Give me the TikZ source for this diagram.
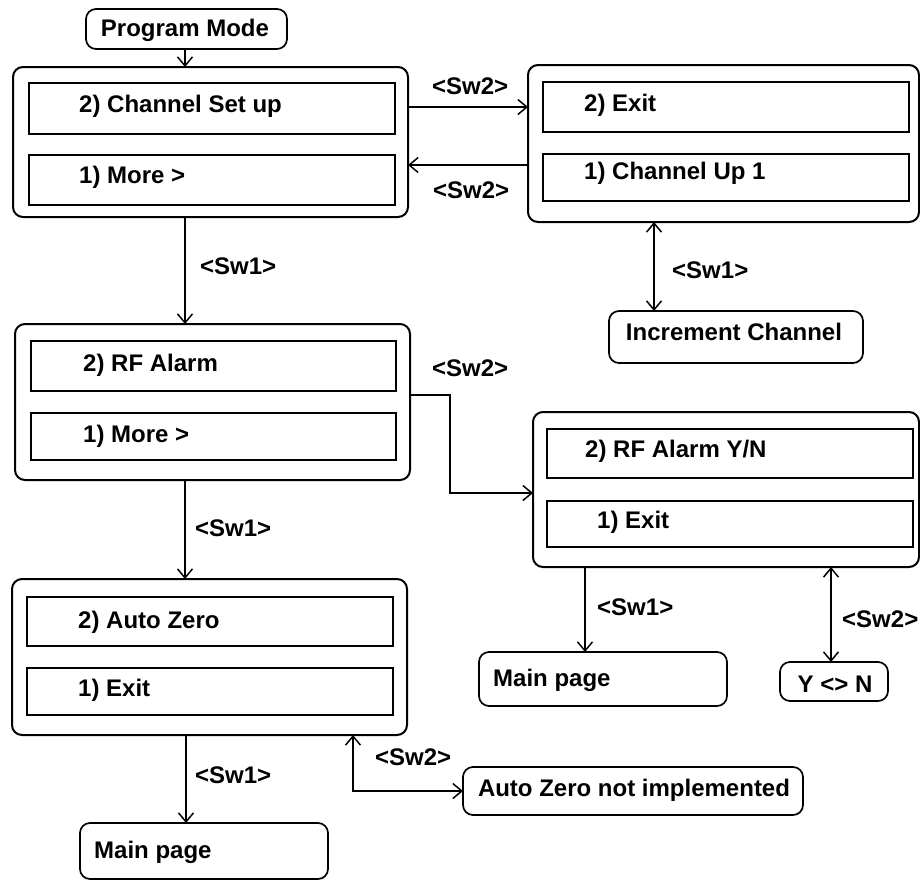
\documentclass[tikz,border=0pt]{standalone}
\usepackage{fontspec}
\setmainfont{Liberation Sans}
\usetikzlibrary{arrows.meta}
% box from its top-left to its bottom-right corner
\newcommand\mkbox[6]{\node[#2, anchor=north west, minimum width={(#5-#3)*1pt}, minimum height={(#6-#4)*1pt}] (#1) at (#3,#4) {};}
\begin{document}
\begin{tikzpicture}[x=1pt,y=-1pt,
  font=\bfseries\fontsize{24}{28}\selectfont,
  panel/.style={draw, line width=2pt, rounded corners=10pt, inner sep=0pt, outer sep=0pt},
  entry/.style={draw, line width=2pt, inner sep=0pt, outer sep=0pt},
  pill/.style={draw, line width=1.7pt, rounded corners=10pt, inner sep=0pt, outer sep=0pt},
  txt/.style={inner sep=0pt, anchor=base west},
  ctxt/.style={inner sep=0pt, anchor=base},
  link/.style={line width=1.5pt, -{Straight Barb[length=9pt,width=15pt]}},
  both/.style={line width=1.5pt, {Straight Barb[length=9pt,width=15pt]}-{Straight Barb[length=9pt,width=15pt]}},
]
\useasboundingbox (0,0) rectangle (920,883);

% entry point
\mkbox{pm}{pill}{86}{9}{287}{49}
\node[ctxt] (pmt) at (185,37) {Program Mode};

% Channel set-up menu
\mkbox{b1}{panel}{13}{67}{408}{217}
\mkbox{b1a}{entry}{29}{83}{395}{134}
\mkbox{b1b}{entry}{29}{155}{395}{205}
\node[txt] (b1at) at (79,112) {2) Channel Set up};
\node[txt] (b1bt) at (79,183) {1) More >};

% channel sub-menu
\mkbox{b2}{panel}{528}{65}{919}{222}
\mkbox{b2a}{entry}{543}{82}{909}{132}
\mkbox{b2b}{entry}{543}{154}{909}{201}
\node[txt] (b2at) at (584,111) {2) Exit};
\node[txt] (b2bt) at (584,179) {1) Channel Up 1};

\mkbox{inc}{pill}{609}{311}{863}{363}
\node[ctxt] (inct) at (734,340) {Increment Channel};

% RF alarm menu
\mkbox{b3}{panel}{15}{324}{410}{480}
\mkbox{b3a}{entry}{31}{341}{396}{391}
\mkbox{b3b}{entry}{31}{413}{396}{460}
\node[txt] (b3at) at (83,371) {2) RF Alarm};
\node[txt] (b3bt) at (83,442) {1) More >};

% RF alarm sub-menu
\mkbox{b5}{panel}{533}{412}{919}{567}
\mkbox{b5a}{entry}{547}{429}{913}{478}
\mkbox{b5b}{entry}{547}{501}{913}{547}
\node[txt] (b5at) at (585,457) {2) RF Alarm Y/N};
\node[txt] (b5bt) at (597,528) {1) Exit};

\mkbox{mp2}{pill}{479}{652}{727}{706}
\node[txt] (mp2t) at (493,686) {Main page};
\mkbox{yn}{pill}{780}{662}{888}{701}
\node[ctxt] (ynt) at (835,692) {Y <> N};

% Auto zero menu
\mkbox{b4}{panel}{12}{579}{407}{735}
\mkbox{b4a}{entry}{27}{597}{393}{646}
\mkbox{b4b}{entry}{27}{668}{393}{715}
\node[txt] (b4at) at (78,628) {2) Auto Zero};
\node[txt] (b4bt) at (78,696) {1) Exit};

\mkbox{mp1}{pill}{80}{823}{328}{879}
\node[txt] (mp1t) at (94,858) {Main page};
\mkbox{az}{pill}{463}{767}{803}{815}
\node[ctxt] (azt) at (634,796) {Auto Zero not implemented};

% connectors
\draw[link] (pm.south -| 185,0) -- (b1.north -| 185,0);
\draw[link] (b1.east |- b2a.center) -- (b2.west |- b2a.center);
\draw[link] (b2.west |- 0,165) -- (b1.east |- 0,165);
\draw[both] (b2.south -| 654,0) -- (inc.north -| 654,0);
\draw[link] (b1.south -| 185,0) -- (b3.north -| 185,0);
\draw[link] (b3.east |- 0,395) -| (450,493) -- (b5.west |- 0,493);
\draw[link] (b3.south -| 185,0) -- (b4.north -| 185,0);
\draw[link] (b5.south -| 585,0) -- (mp2.north -| 585,0);
\draw[both] (b5.south -| 831,0) -- (yn.north -| 831,0);
\draw[link] (b4.south -| 186,0) -- (mp1.north -| 186,0);
\draw[both] (b4.south -| 353,0) |- (az.west);

% switch labels
\node[txt] (l1) at (432,94) {<Sw2>};
\node[txt] (l2) at (433,198) {<Sw2>};
\node[txt] (l3) at (672,278) {<Sw1>};
\node[txt] (l4) at (200,274) {<Sw1>};
\node[txt] (l5) at (432,376) {<Sw2>};
\node[txt] (l6) at (195,536) {<Sw1>};
\node[txt] (l7) at (597,615) {<Sw1>};
\node[txt] (l8) at (842,627) {<Sw2>};
\node[txt] (l9) at (195,783) {<Sw1>};
\node[txt] (l10) at (375,765) {<Sw2>};
\end{tikzpicture}
\end{document}
